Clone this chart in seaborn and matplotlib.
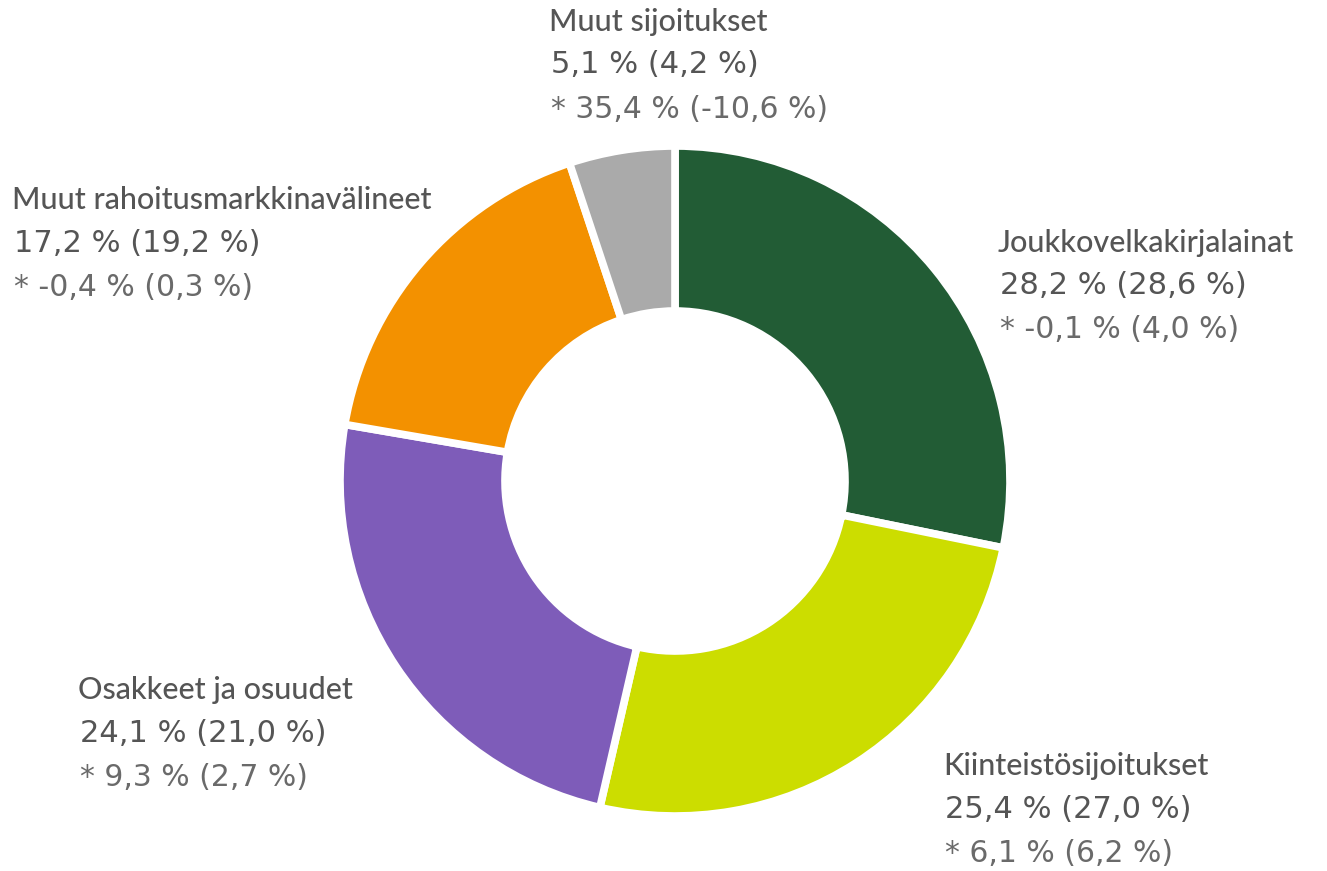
import matplotlib
matplotlib.use("Agg")
import matplotlib.pyplot as plt
import seaborn as sns

categories = ["Joukkovelkakirjalainat", "Kiinteistösijoitukset", "Osakkeet ja osuudet",
              "Muut rahoitusmarkkinavälineet", "Muut sijoitukset"]
shares = [28.2, 25.4, 24.1, 17.2, 5.1]
shares_prev = [28.6, 27.0, 21.0, 19.2, 4.2]
returns = [-0.1, 6.1, 9.3, -0.4, 35.4]
returns_prev = [4.0, 6.2, 2.7, 0.3, -10.6]
colors = ["#225C35", "#CCDD00", "#7E5CB9", "#F39100", "#AAAAAA"]

sns.set_theme(style="white")
plt.rcParams['font.family'] = ['Lato', 'DejaVu Sans']

W, H = 1327, 871
fig = plt.figure(figsize=(W / 100, H / 100), dpi=100)
ax = fig.add_axes([0, 0, 1, 1])

cx, cy, R = 675, H - 481, 335
ax.pie(shares, colors=colors, startangle=90, counterclock=False,
       center=(cx, cy), radius=R, frame=True,
       wedgeprops=dict(width=165, edgecolor="white", linewidth=5.5))
ax.set_xlim(0, W)
ax.set_ylim(0, H)
ax.set_aspect("equal")
ax.axis("off")


def fmt(v):
    return f"{v:.1f}".replace(".", ",") + " %"


label_pos = [(1000, 243), (945, 766), (80, 690), (14, 200), (551, 22)]
for i, name in enumerate(categories):
    x, y = label_pos[i]
    ax.text(x - 2, H - y, name, fontsize=22, color="#555555", va="center", ha="left",
            family=['Lato', 'DejaVu Sans'], fontweight="medium")
    ax.text(x, H - (y + 43), f"{fmt(shares[i])} ({fmt(shares_prev[i])})", fontsize=22,
            color="#555555", va="center", ha="left", family=['DejaVu Sans'])
    ax.text(x, H - (y + 87), f"* {fmt(returns[i])} ({fmt(returns_prev[i])})", fontsize=21.5,
            color="#6a6a6a", va="center", ha="left", family=['DejaVu Sans'])

fig.savefig("out.png", dpi=100, facecolor="white")
